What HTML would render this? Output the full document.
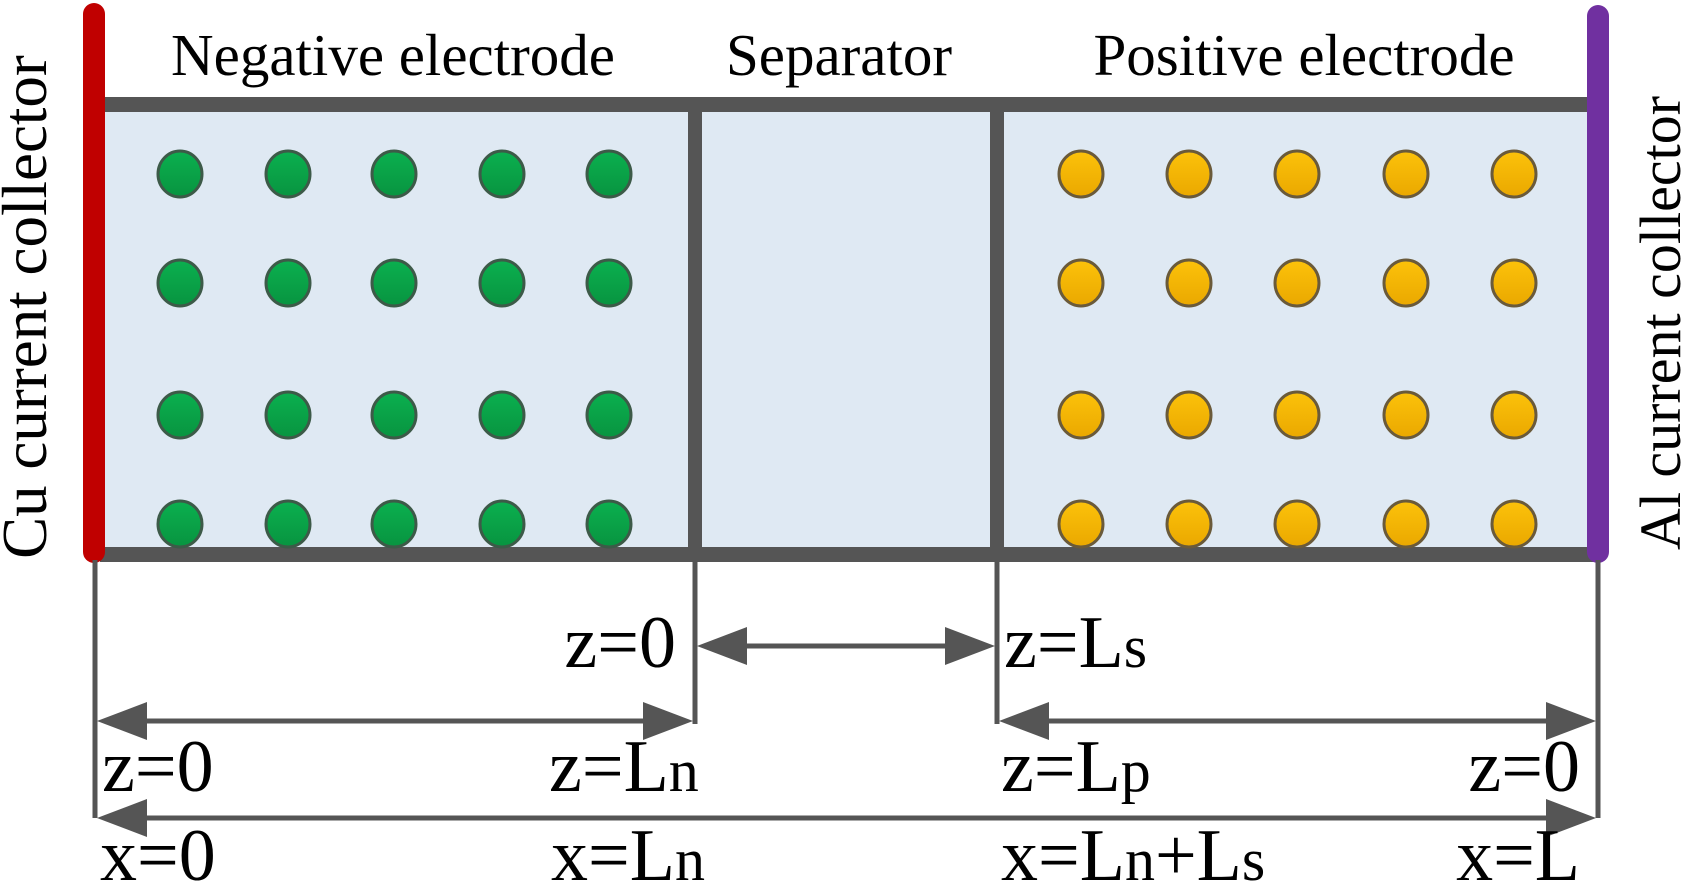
<!DOCTYPE html>
<html><head><meta charset="utf-8"><style>
html,body{margin:0;padding:0;background:#fff;}
svg{display:block;}
text{font-family:"Liberation Serif",serif;fill:#000;}
</style></head><body>
<svg width="1690" height="891" viewBox="0 0 1690 891">
<defs>
<linearGradient id="gg" x1="0" y1="0" x2="0" y2="1"><stop offset="0" stop-color="#0bb04f"/><stop offset="1" stop-color="#089440"/></linearGradient>
<linearGradient id="og" x1="0" y1="0" x2="0" y2="1"><stop offset="0" stop-color="#fcc20a"/><stop offset="1" stop-color="#eaa800"/></linearGradient>
</defs>
<rect x="100" y="104" width="1495" height="450" fill="#dfe9f3"/>
<line x1="100" y1="104.5" x2="1595" y2="104.5" stroke="#555" stroke-width="15"/>
<line x1="100" y1="554.5" x2="1595" y2="554.5" stroke="#555" stroke-width="15"/>
<line x1="695" y1="104" x2="695" y2="555" stroke="#555" stroke-width="14"/>
<line x1="997" y1="104" x2="997" y2="555" stroke="#555" stroke-width="14"/>
<line x1="94" y1="14" x2="94" y2="552" stroke="#c00000" stroke-width="22" stroke-linecap="round"/>
<line x1="1598" y1="16" x2="1598" y2="552" stroke="#7030a0" stroke-width="22" stroke-linecap="round"/>
<g id="dots"></g>
<text x="393" y="75" font-size="59" text-anchor="middle">Negative electrode</text>
<text x="839" y="75" font-size="59" text-anchor="middle">Separator</text>
<text x="1304" y="75" font-size="59" text-anchor="middle">Positive electrode</text>
<text x="0" y="0" font-size="63" text-anchor="middle" transform="translate(46,307) rotate(-90)">Cu current collector</text>
<text x="0" y="0" font-size="58" text-anchor="middle" transform="translate(1680,323) rotate(-90)">Al current collector</text>
<g stroke="#555" stroke-width="5" fill="none">
<line x1="95" y1="560" x2="95" y2="818"/>
<line x1="695" y1="560" x2="695" y2="724"/>
<line x1="997" y1="560" x2="997" y2="724"/>
<line x1="1598" y1="560" x2="1598" y2="818"/>
<line x1="740" y1="646" x2="952" y2="646"/>
<line x1="140" y1="721" x2="650" y2="721"/>
<line x1="1042" y1="721" x2="1553" y2="721"/>
<line x1="140" y1="818" x2="1553" y2="818"/>
</g>
<g fill="#555">
<polygon points="697,646 747,627 747,665"/><polygon points="995,646 945,627 945,665"/>
<polygon points="97,721 147,702 147,740"/><polygon points="693,721 643,702 643,740"/>
<polygon points="999,721 1049,702 1049,740"/><polygon points="1596,721 1546,702 1546,740"/>
<polygon points="97,818 147,799 147,837"/><polygon points="1596,818 1546,799 1546,837"/>
</g>
<g font-size="74">
<text x="676" y="667" text-anchor="end">z=0</text>
<text x="1004" y="667">z=L<tspan font-size="60">s</tspan></text>
<text x="102" y="791">z=0</text>
<text x="549" y="791">z=L<tspan font-size="60">n</tspan></text>
<text x="1001" y="791">z=L<tspan font-size="60">p</tspan></text>
<text x="1580" y="791" text-anchor="end">z=0</text>
<text x="100" y="880">x=0</text>
<text x="551" y="880">x=L<tspan font-size="60">n</tspan></text>
<text x="1001" y="880">x=L<tspan font-size="60">n</tspan>+L<tspan font-size="60">s</tspan></text>
<text x="1580" y="880" text-anchor="end">x=L</text>
</g>
</svg>
<script>
const greenCols=[180,288,394,502,609];
const orangeCols=[1081,1189,1297,1406,1514];
const rows=[174,283,415,524];
const g=document.getElementById('dots');
const NS='http://www.w3.org/2000/svg';
function dot(cx,cy,fill,stroke,name){
  const c=document.createElementNS(NS,'ellipse');
  c.setAttribute('cx',cx);c.setAttribute('cy',cy);c.setAttribute('rx',22);c.setAttribute('ry',23);
  c.setAttribute('fill',fill);c.setAttribute('stroke',stroke);c.setAttribute('stroke-width',3);
  
  
  g.appendChild(c);
}
rows.forEach(y=>{
  greenCols.forEach(x=>dot(x,y,'url(#gg)','#3d5a48','negative-particle'));
  orangeCols.forEach(x=>dot(x,y,'url(#og)','#6a5a3a','positive-particle'));
});
</script>
</body></html>
